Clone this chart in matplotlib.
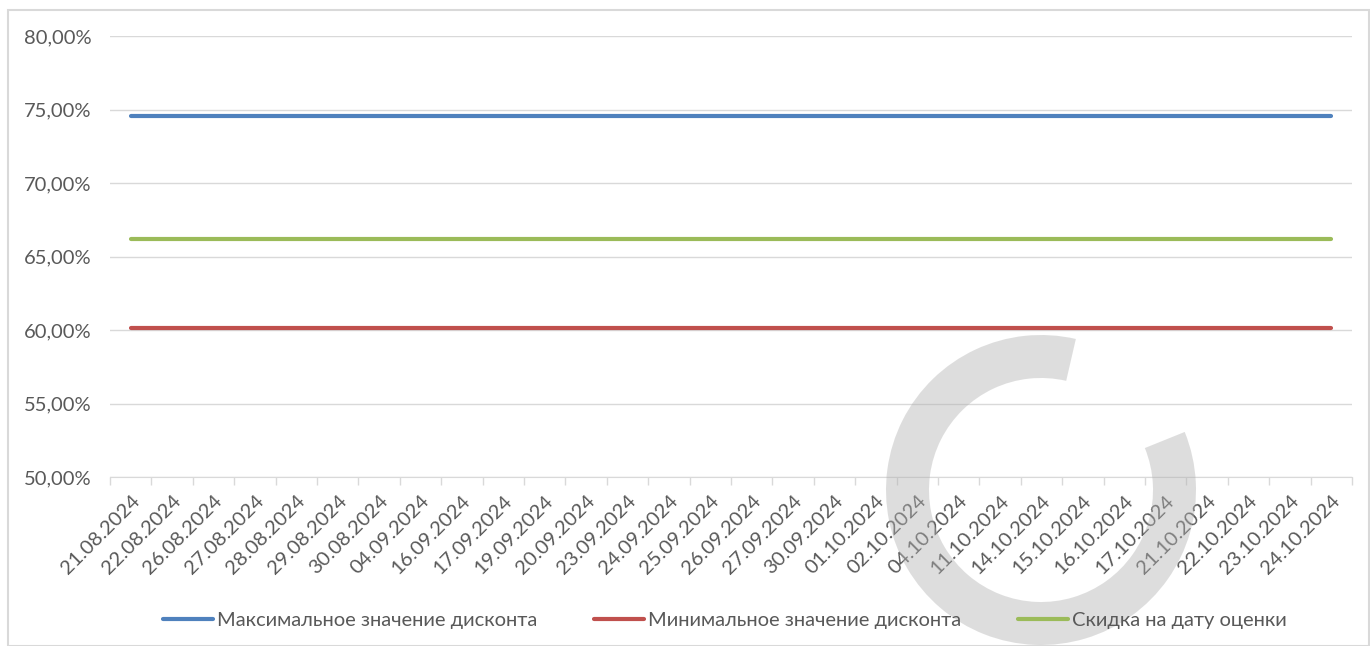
import matplotlib
matplotlib.use("Agg")
import matplotlib.pyplot as plt
from matplotlib.patches import Wedge, Rectangle
from matplotlib.ticker import FuncFormatter, FixedLocator
import numpy as np

dates = ["21.08.2024", "22.08.2024", "26.08.2024", "27.08.2024", "28.08.2024",
         "29.08.2024", "30.08.2024", "04.09.2024", "16.09.2024", "17.09.2024",
         "19.09.2024", "20.09.2024", "23.09.2024", "24.09.2024", "25.09.2024",
         "26.09.2024", "27.09.2024", "30.09.2024", "01.10.2024", "02.10.2024",
         "04.10.2024", "11.10.2024", "14.10.2024", "15.10.2024", "16.10.2024",
         "17.10.2024", "21.10.2024", "22.10.2024", "23.10.2024", "24.10.2024"]
max_discount = [74.55] * len(dates)
min_discount = [60.13] * len(dates)
valuation_discount = [66.2] * len(dates)

series_names = ["Максимальное значение дисконта",
                "Минимальное значение дисконта",
                "Скидка на дату оценки"]

plt.rcParams['font.family'] = ['Lato', 'DejaVu Sans']
W, H = 1370, 646
fig = plt.figure(figsize=(W / 100, H / 100), dpi=100)
ax = fig.add_axes([110 / W, 1 - 477 / H, (1352 - 110) / W, (477 - 36) / H])

x = np.arange(len(dates))
text_col = "#595959"
ax.plot(x, max_discount, color="#4F81BD", lw=3.0, solid_capstyle="round", label=series_names[0], zorder=3)
ax.plot(x, min_discount, color="#C0504D", lw=3.0, solid_capstyle="round", label=series_names[1], zorder=3)
ax.plot(x, valuation_discount, color="#9BBB59", lw=3.0, solid_capstyle="round", label=series_names[2], zorder=3)

ax.set_xlim(-0.5, len(dates) - 0.5)
ax.set_ylim(50, 80)
ax.set_yticks(np.arange(50, 80.1, 5))
ax.yaxis.set_major_formatter(FuncFormatter(lambda v, p: f"{v:.2f}".replace(".", ",") + "%"))
ax.grid(axis="y", color="#d9d9d9", lw=1.0)
ax.set_axisbelow(True)

ax.set_xticks(x)
ax.set_xticklabels(dates, rotation=45, ha="right", rotation_mode="anchor")
ax.xaxis.set_minor_locator(FixedLocator(np.arange(-0.5, len(dates), 1.0)))
ax.tick_params(axis="x", which="major", length=0, pad=11, labelsize=14.5, labelcolor=text_col)
ax.tick_params(axis="x", which="minor", length=6, color="#d9d9d9", width=1)
ax.tick_params(axis="y", length=0, pad=13.5, labelsize=14.5, labelcolor=text_col)

for s in ["top", "right", "left"]:
    ax.spines[s].set_visible(False)
ax.spines["bottom"].set_color("#d9d9d9")

leg = fig.legend(loc="center", bbox_to_anchor=(725 / W, 1 - 620 / H), ncol=3, frameon=False,
                 fontsize=14.5, handlelength=2.5, columnspacing=2.8, handletextpad=0.2)
for t in leg.get_texts():
    t.set_color(text_col)

# chart border
fig.add_artist(Rectangle((8 / W, 0), (W - 9) / W, 1 - 10 / H, transform=fig.transFigure,
                         fill=False, edgecolor="#d9d9d9", lw=1.5))

# watermark
fig.add_artist(Wedge((1041 / 100, (H - 490) / 100), 1.55, 77, 382, width=0.43,
                     transform=fig.dpi_scale_trans, facecolor="#b0b0b0", edgecolor="none",
                     alpha=0.42, zorder=0.5))

fig.savefig("out.png", dpi=100)
